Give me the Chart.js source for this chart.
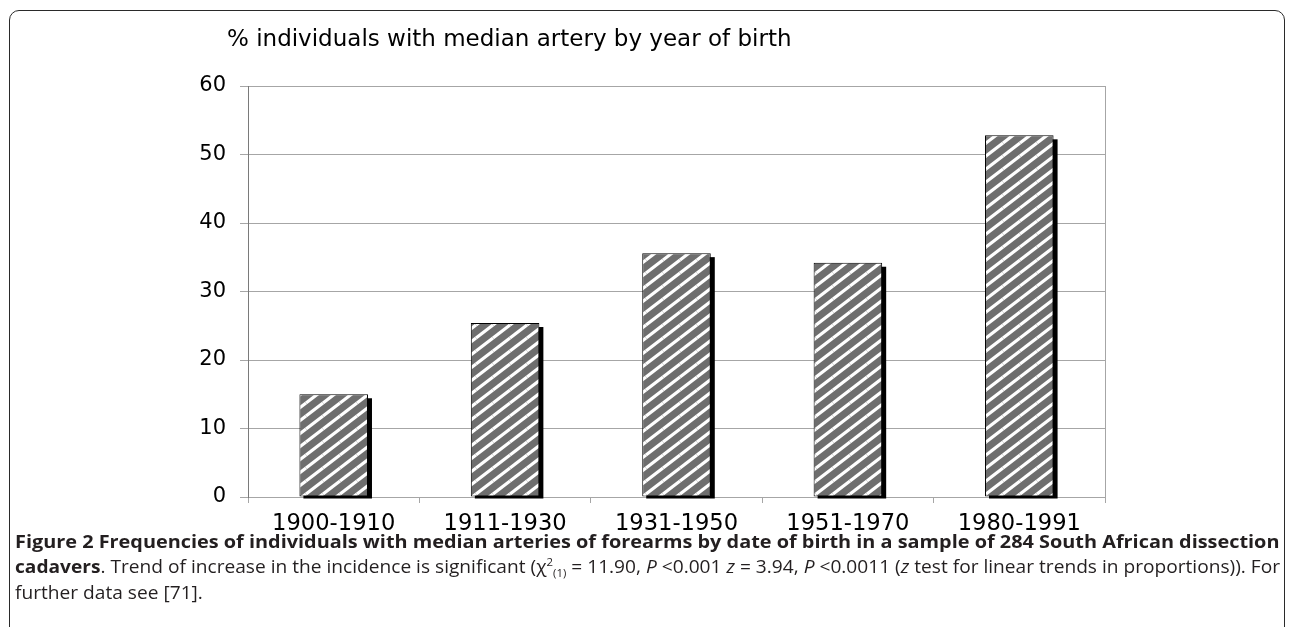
<!DOCTYPE html>
<html>
<head>
<meta charset="utf-8">
<script src="https://cdn.jsdelivr.net/npm/chart.js@4.4.1/dist/chart.umd.min.js"></script>
<style>
  html, body { margin: 0; padding: 0; background: #ffffff; width: 1290px; height: 627px; overflow: hidden; }
  #frame { position: absolute; left: 9px; top: 10px; width: 1276px; height: 700px; border: 1.5px solid #2a2a2a; border-radius: 10px; box-sizing: border-box; }
  #wrap { position: absolute; left: 0; top: 0; width: 1290px; height: 627px; }
  .cap { position: absolute; left: 15px; white-space: nowrap; font-family: "Open Sans", "Noto Sans", sans-serif; font-size: 18.5px; line-height: 26px; color: #231f20; transform-origin: 0 50%; }
  .cap sup { font-size: 11px; vertical-align: 7px; line-height: 0; }
  .cap sub { font-size: 11px; vertical-align: -4px; line-height: 0; }
  #l1 { top: 528px; font-weight: bold; }
  #l2 { top: 553px; }
  #l3 { top: 579px; }
</style>
</head>
<body>
<div id="frame"></div>
<div id="wrap"><canvas id="c" width="1290" height="627"></canvas></div>
<div class="cap" id="l1">Figure 2 Frequencies of individuals with median arteries of forearms by date of birth in a sample of 284 South African dissection</div>
<div class="cap" id="l2"><b>cadavers</b>. Trend of increase in the incidence is significant (χ<sup>2</sup><sub>(1)</sub> = 11.90, <i>P</i> &lt;0.001 <i>z</i> = 3.94, <i>P</i> &lt;0.0011 (<i>z</i> test for linear trends in proportions)). For</div>
<div class="cap" id="l3">further data see [71].</div>
<script>
const categories = ['1900-1910', '1911-1930', '1931-1950', '1951-1970', '1980-1991'];
const values = [15.0, 25.4, 35.6, 34.2, 52.8];
const yMin = 0;
const yMax = 60;
const yStep = 10;
const chartTitle = '% individuals with median artery by year of birth';

function makeStripes() {
  const w = 17, h = 13;
  const pc = document.createElement('canvas');
  pc.width = w; pc.height = h;
  const g = pc.getContext('2d');
  g.fillStyle = '#6e6e6e';
  g.fillRect(0, 0, w, h);
  g.strokeStyle = '#ffffff';
  g.lineWidth = 3.2;
  for (const [dx, dy] of [[-w, 0], [0, 0], [w, 0], [0, -h], [0, h]]) {
    g.beginPath();
    g.moveTo(dx, h + dy);
    g.lineTo(w + dx, dy);
    g.stroke();
  }
  return g.createPattern(pc, 'repeat');
}

const ctx = document.getElementById('c').getContext('2d');

const decorations = {
  id: 'decorations',
  beforeDatasetsDraw(chart) {
    const c = chart.ctx;
    const meta = chart.getDatasetMeta(0);
    c.save();
    c.fillStyle = '#000000';
    meta.data.forEach(el => {
      const p = el.getProps(['x', 'y', 'width', 'base'], true);
      c.fillRect(p.x - p.width / 2 + 4, p.y + 4, p.width, p.base - p.y - 2);
    });
    c.restore();
  },
  afterDraw(chart) {
    const c = chart.ctx;
    const a = chart.chartArea;
    c.save();
    c.strokeStyle = '#a6a6a6';
    c.lineWidth = 1;
    c.beginPath();
    c.moveTo(a.right + 0.5, a.top);
    c.lineTo(a.right + 0.5, a.bottom);
    c.stroke();
    c.fillStyle = '#000000';
    c.font = '23px "DejaVu Sans"';
    c.textAlign = 'left';
    c.textBaseline = 'middle';
    c.fillText(chartTitle, a.left - 21, 40);
    c.restore();
  }
};

new Chart(ctx, {
  type: 'bar',
  data: {
    labels: categories,
    datasets: [{
      data: values,
      backgroundColor: makeStripes(),
      borderColor: '#000000',
      borderWidth: 1,
      borderSkipped: false,
      barPercentage: 0.4,
      categoryPercentage: 1.0
    }]
  },
  options: {
    responsive: false,
    animation: false,
    devicePixelRatio: 1,
    layout: { padding: { left: 0, right: 185, top: 86, bottom: 0 } },
    plugins: { legend: { display: false }, tooltip: { enabled: false }, title: { display: false } },
    scales: {
      x: {
        offset: true,
        grid: { display: true, drawOnChartArea: false, drawTicks: true, tickLength: 6, color: '#a6a6a6', offset: true },
        border: { display: true, color: '#a6a6a6', width: 1 },
        ticks: { color: '#000000', font: { family: 'DejaVu Sans', size: 22.6 }, padding: 8, maxRotation: 0 },
        afterFit(scale) { scale.height = 130; }
      },
      y: {
        min: yMin,
        max: yMax,
        ticks: { stepSize: yStep, color: '#000000', font: { family: 'DejaVu Sans', size: 21 }, padding: 14 },
        grid: { color: '#a6a6a6', tickLength: 8, drawTicks: true },
        border: { display: true, color: '#7a7a7a', width: 1 },
        afterFit(scale) { scale.width = 248; }
      }
    }
  },
  plugins: [decorations]
});

function fitCaption() {
  const l1 = document.getElementById('l1');
  const l2 = document.getElementById('l2');
  const l3 = document.getElementById('l3');
  const target = 1265;
  const s1 = target / l1.scrollWidth;
  const s2 = target / l2.scrollWidth;
  l1.style.transform = 'scaleX(' + s1 + ')';
  l2.style.transform = 'scaleX(' + s2 + ')';
  l3.style.transform = 'scaleX(' + s2 + ')';
}
fitCaption();
</script>
</body>
</html>
